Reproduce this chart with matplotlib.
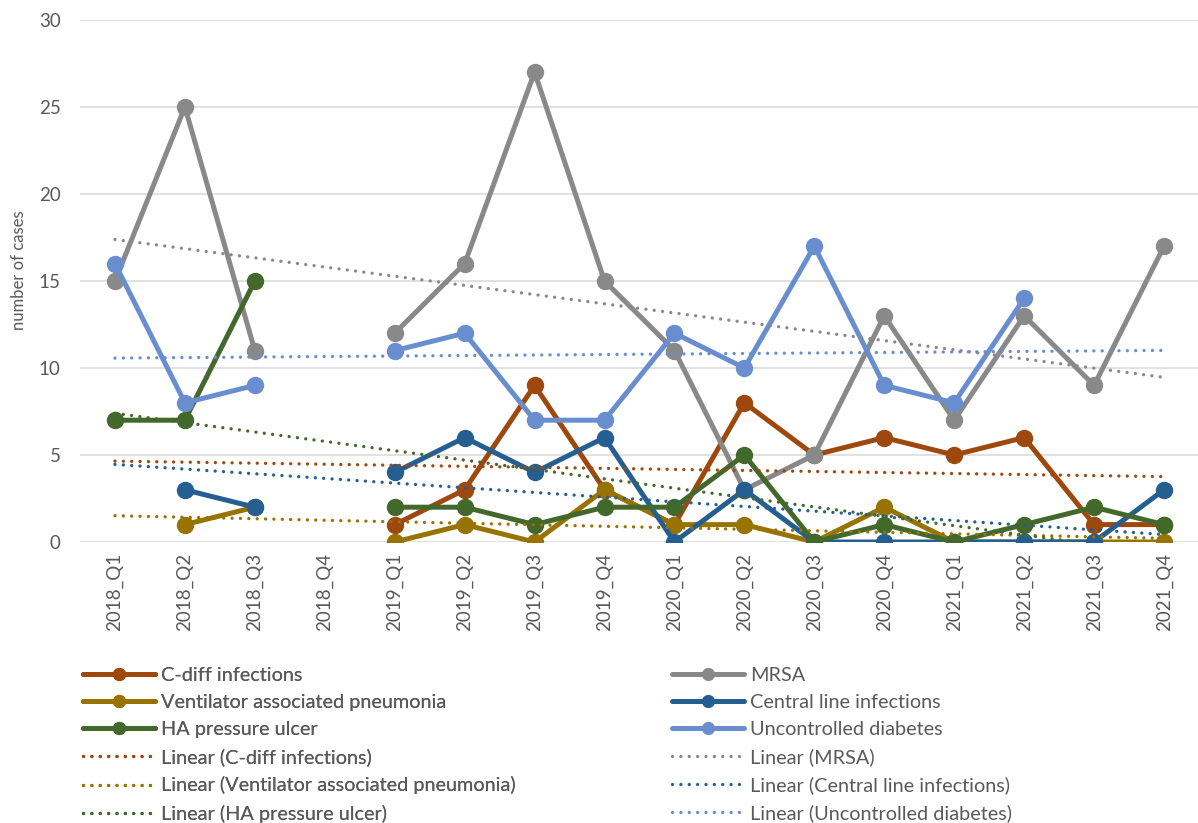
import numpy as np
import matplotlib
matplotlib.use("Agg")
import matplotlib.pyplot as plt
from matplotlib.lines import Line2D

plt.rcParams['font.family'] = ['Lato', 'DejaVu Sans']

nan = np.nan
quarters = ['2018_Q1', '2018_Q2', '2018_Q3', '2018_Q4',
            '2019_Q1', '2019_Q2', '2019_Q3', '2019_Q4',
            '2020_Q1', '2020_Q2', '2020_Q3', '2020_Q4',
            '2021_Q1', '2021_Q2', '2021_Q3', '2021_Q4']

c_diff = [nan, nan, nan, nan, 1, 3, 9, 3, 1, 8, 5, 6, 5, 6, 1, 1]
mrsa = [15, 25, 11, nan, 12, 16, 27, 15, 11, 3, 5, 13, 7, 13, 9, 17]
ventilator = [nan, 1, 2, nan, 0, 1, 0, 3, 1, 1, 0, 2, 0, 0, 0, 0]
central_line = [nan, 3, 2, nan, 4, 6, 4, 6, 0, 3, 0, 0, 0, 0, 0, 3]
pressure_ulcer = [7, 7, 15, nan, 2, 2, 1, 2, 2, 5, 0, 1, 0, 1, 2, 1]
diabetes = [16, 8, 9, nan, 11, 12, 7, 7, 12, 10, 17, 9, 8, 14, nan, nan]

series_names = ['C-diff infections', 'MRSA', 'Ventilator associated pneumonia',
                'Central line infections', 'HA pressure ulcer', 'Uncontrolled diabetes']
series_values = [c_diff, mrsa, ventilator, central_line, pressure_ulcer, diabetes]
series_colors = ['#9E480E', '#898989', '#997300', '#255E91', '#43682B', '#698ED0']

W, H = 1198, 823
fig = plt.figure(figsize=(W / 100, H / 100), dpi=100)
ax = fig.add_axes([80 / W, 1 - 542 / H, (1199 - 80) / W, (542 - 20) / H])

x = np.arange(len(quarters))
TXT = '#595959'
LW = 3.6
MS = 11.5
DOTS = (0, (0.01, 2.5))

series_handles = {}
trend_handles = {}
for i, (name, vals, col) in enumerate(zip(series_names, series_values, series_colors)):
    y = np.array(vals, dtype=float)
    ax.plot(x, y, color=col, lw=LW, marker='o', ms=MS, mec=col, mfc=col,
            solid_capstyle='round', solid_joinstyle='round', zorder=3 + i * 0.1)
    series_handles[name] = Line2D([], [], color=col, lw=LW, marker='o', ms=8.5,
                                  mec=col, mfc=col, solid_capstyle='round')
    # least-squares linear trend over the quarters that have data
    ok = ~np.isnan(y)
    slope, icpt = np.polyfit(x[ok], y[ok], 1)
    ax.plot(x, icpt + slope * x, color=col, lw=2.4, linestyle=DOTS,
            dash_capstyle='round', zorder=4 + i * 0.1)
    trend_handles[name] = Line2D([], [], color=col, lw=2.4, linestyle=DOTS,
                                dash_capstyle='round')

ax.set_xlim(-0.5, len(quarters) - 0.5)
ax.set_ylim(0, 30)
ax.set_yticks(range(0, 31, 5))
ax.set_xticks(x)
ax.set_xticklabels(quarters, rotation=90)
ax.tick_params(axis='both', length=0, colors=TXT, labelsize=13.5)
ax.tick_params(axis='y', pad=14)
ax.tick_params(axis='x', pad=8)
ax.grid(axis='y', color='#D9D9D9', lw=1.1, zorder=0)
ax.set_axisbelow(True)
for s in ax.spines.values():
    s.set_visible(False)

fig.text(19 / W, 1 - 270 / H, 'number of cases', rotation=90, ha='center', va='center',
         color=TXT, fontsize=12)

left_names = ['C-diff infections', 'Ventilator associated pneumonia', 'HA pressure ulcer']
right_names = ['MRSA', 'Central line infections', 'Uncontrolled diabetes']

def make_legend(names, x0):
    handles = [series_handles[n] for n in names] + [trend_handles[n] for n in names]
    labels = names + ['Linear (%s)' % n for n in names]
    fs = 14.3
    leg = fig.legend(handles, labels, loc='upper left',
                     bbox_to_anchor=(x0 / W, 1 - 667 / H), frameon=False,
                     fontsize=fs, labelcolor=TXT, borderpad=0, borderaxespad=0,
                     handlelength=52 / fs, handletextpad=4 / fs, labelspacing=0.51)
    return leg

fig.add_artist(make_legend(left_names, 83))
make_legend(right_names, 672)

fig.savefig('out.png', dpi=100)
